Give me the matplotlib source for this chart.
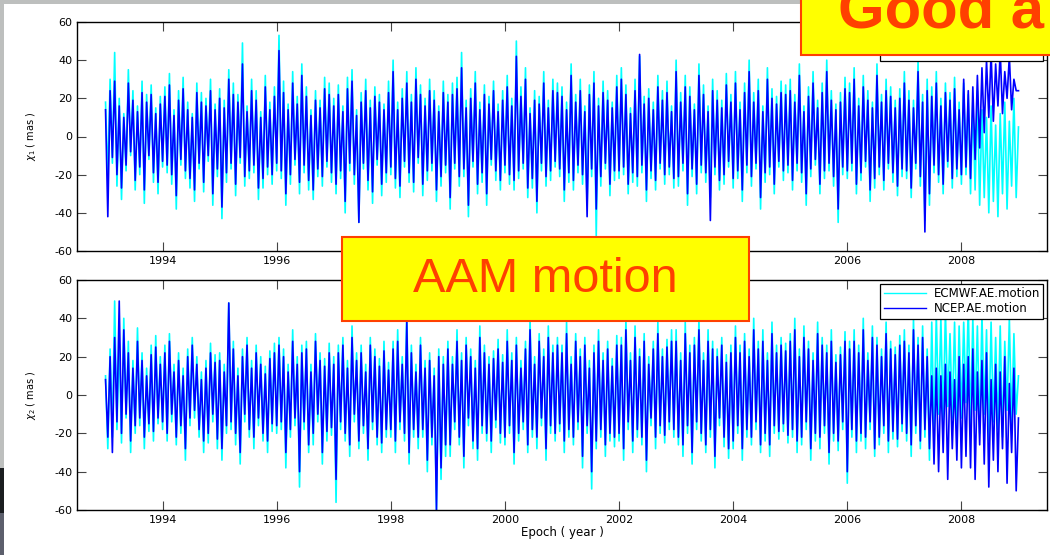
import numpy as np
import matplotlib
matplotlib.use("Agg")
import matplotlib.pyplot as plt
from matplotlib.patches import Rectangle

plt.rcParams['font.family'] = ['DejaVu Sans']
plt.rcParams['axes.unicode_minus'] = False

# chi1 (mas), ECMWF, 25 samples per year 1993..2008 (+ end point)
chi1_ecmwf = [
    18, -22, 30, -14, 44, -26, 20, -33, 12, -18, 35, -10, 24, -28, 16, -20, 29, -35, 22, -12, 27, -24, 15, -30, 21,
    -16, 26, -19, 33, -25, 14, -38, 24, -15, 31, -22, 18, -27, 12, -34, 28, -17, 23, -29, 20, -13, 30, -36, 17, -21,
    25, -43, 19, -24, 35, -17, 28, -31, 22, -14, 49, -26, 16, -22, 30, -19, 24, -33, 13, -27, 32, -20, 18, -25, 26,
    -18, 53, -22, 29, -36, 17, -25, 34, -15, 21, -30, 38, -19, 26, -28, 14, -33, 24, -21, 19, -26, 31, -16, 28, -24,
    20, -30, 27, -22, 16, -40, 31, -18, 35, -25, 14, -45, 23, -17, 30, -28, 19, -35, 26, -15, 22, -31, 17, -24, 29,
    -20, 40, -27, 18, -32, 25, -16, 34, -24, 22, -29, 36, -14, 27, -31, 20, -23, 30, -18, 24, -34, 16, -26, 29, -19,
    22, -38, 28, -17, 31, -26, 44, -21, 19, -42, 25, -16, 34, -30, 18, -24, 27, -36, 21, -15, 29, -23, 17, -28, 24,
    -19, 32, -25, 20, -28, 50, -22, 26, -17, 36, -32, 15, -27, 24, -40, 21, -18, 34, -26, 19, -23, 30, -16, 28, -21,
    26, -34, 18, -24, 38, -28, 22, -19, 30, -25, 16, -36, 27, -21, 34, -52, 20, -26, 29, -17, 24, -31, 18, -23, 32,
    -22, 36, -20, 27, -30, 15, -24, 30, -26, 42, -19, 21, -34, 25, -22, 18, -28, 32, -17, 24, -25, 29, -20, 16, -27,
    40, -26, 23, -18, 32, -36, 26, -21, 17, -30, 38, -19, 27, -24, 16, -32, 30, -20, 24, -28, 19, -25, 33, -16, 22,
    -27, 34, -22, 18, -34, 28, -19, 40, -26, 23, -17, 30, -38, 16, -24, 36, -20, 25, -30, 21, -16, 29, -23, 27, -19,
    30, -28, 22, -18, 38, -24, 16, -36, 26, -21, 34, -15, 19, -30, 28, -22, 40, -18, 24, -26, 17, -45, 23, -20, 31,
    -22, 28, -18, 36, -30, 20, -23, 32, -16, 24, -34, 18, -27, 38, -20, 22, -28, 30, -17, 26, -24, 19, -31, 25, -21,
    34, -22, 24, -32, 19, -17, 40, -26, 22, -44, 30, -36, 26, -19, 34, -24, 20, -30, 28, -16, 23, -27, 31, -21, 18,
    -25, 28, -20, 22, -30, 18, -28, 24, -36, 14, -32, 10, -40, 16, -34, 6, -42, 12, -30, 18, -38, 8, -26, 20, -32,
    5]

chi1_ncep = [
    14, -42, 24, -11, 29, -20, 16, -27, 10, -15, 28, -8, 19, -23, 13, -16, 23, -28, 18, -10, 22, -19, 12, -24, 17,
    -13, 21, -15, 27, -20, 11, -31, 19, -12, 25, -18, 14, -22, 10, -28, 23, -14, 18, -24, 16, -10, 24, -30, 14, -17,
    20, -37, 15, -19, 30, -14, 22, -25, 18, -11, 38, -21, 13, -18, 24, -15, 19, -27, 10, -22, 26, -16, 14, -20, 21,
    -14, 45, -18, 23, -30, 14, -20, 28, -12, 17, -24, 32, -15, 21, -23, 11, -28, 19, -17, 15, -21, 25, -13, 22, -19,
    16, -25, 22, -18, 13, -34, 25, -14, 29, -20, 11, -45, 18, -14, 24, -23, 15, -29, 21, -12, 18, -25, 14, -19, 23,
    -16, 34, -22, 14, -26, 20, -13, 28, -19, 18, -24, 30, -11, 22, -25, 16, -18, 24, -14, 19, -28, 13, -21, 23, -15,
    18, -32, 22, -14, 25, -21, 36, -17, 15, -36, 20, -13, 28, -25, 14, -19, 22, -30, 17, -12, 24, -18, 13, -23, 19,
    -15, 26, -20, 16, -23, 42, -18, 21, -14, 30, -27, 12, -22, 19, -34, 17, -14, 28, -21, 15, -18, 24, -13, 23, -17,
    21, -28, 14, -19, 32, -23, 18, -15, 24, -20, 13, -42, 22, -17, 28, -38, 16, -21, 23, -14, 19, -25, 15, -18, 26,
    -18, 30, -16, 22, -25, 12, -19, 24, -21, 43, -15, 17, -28, 20, -18, 14, -23, 26, -14, 19, -20, 23, -16, 13, -22,
    34, -21, 18, -14, 26, -30, 21, -17, 14, -25, 32, -15, 22, -19, 13, -44, 24, -16, 19, -23, 15, -20, 27, -13, 18,
    -22, 28, -18, 14, -28, 23, -15, 34, -21, 18, -14, 24, -32, 13, -19, 30, -16, 20, -25, 17, -13, 23, -18, 22, -15,
    24, -23, 18, -14, 32, -19, 13, -30, 21, -17, 28, -12, 15, -25, 23, -18, 34, -14, 19, -21, 14, -38, 18, -16, 25,
    -18, 23, -14, 30, -25, 16, -19, 26, -13, 19, -28, 15, -22, 32, -16, 18, -23, 24, -14, 21, -19, 15, -26, 20, -17,
    28, -18, 19, -27, 15, -14, 34, -21, 18, -50, 24, -30, 21, -15, 28, -20, 16, -25, 23, -13, 19, -22, 25, -17, 14,
    -20, 30, -16, 24, -22, 26, -12, 32, -6, 36, 2, 40, 10, 44, 8, 38, 16, 45, 12, 34, 20, 42, 14, 30, 24,
    24]

# chi2 (mas)
chi2_ecmwf = [
    10, -28, 24, -22, 49, -18, 30, -25, 40, -12, 28, -30, 18, -20, 35, -16, 22, -28, 14, -19, 26, -24, 31, -15, 20,
    -18, 26, -24, 32, -14, 16, -26, 22, -20, 14, -34, 24, -16, 30, -12, 20, -22, 12, -30, 18, -25, 27, -14, 21, -28,
    22, -34, 16, -20, 48, -18, 28, -26, 14, -36, 24, -14, 30, -22, 18, -28, 26, -16, 20, -24, 15, -30, 23, -19, 27,
    -20, 30, -18, 24, -38, 16, -22, 34, -16, 20, -48, 26, -18, 28, -30, 16, -26, 32, -14, 22, -36, 19, -24, 27, -21,
    20, -56, 26, -18, 30, -24, 18, -32, 36, -14, 22, -28, 26, -20, 16, -34, 30, -18, 24, -26, 19, -30, 28, -22, 17,
    -22, 28, -30, 34, -18, 20, -24, 46, -36, 26, -22, 16, -28, 30, -22, 18, -40, 22, -26, 14, -60, 24, -44, 20, -32,
    28, -32, 20, -18, 34, -26, 22, -38, 30, -16, 24, -28, 18, -34, 36, -20, 26, -24, 20, -30, 23, -17, 29, -25, 21,
    -26, 34, -20, 22, -36, 30, -24, 18, -18, 28, -30, 40, -22, 20, -28, 32, -16, 24, -34, 36, -20, 26, -24, 30, -19,
    26, -30, 38, -22, 20, -26, 32, -18, 24, -38, 30, -20, 18, -49, 26, -28, 34, -22, 22, -32, 28, -24, 19, -27, 31,
    -24, 30, -34, 40, -18, 22, -30, 36, -22, 24, -26, 32, -40, 20, -16, 28, -28, 38, -20, 24, -25, 29, -18, 34, -22,
    34, -26, 22, -32, 38, -20, 26, -36, 30, -18, 40, -24, 22, -30, 34, -22, 28, -38, 24, -16, 30, -27, 21, -33, 26,
    -28, 36, -20, 26, -34, 32, -22, 24, -26, 40, -18, 28, -30, 34, -24, 22, -32, 38, -20, 26, -23, 30, -19, 27, -25,
    32, -22, 40, -30, 24, -26, 36, -18, 28, -34, 22, -24, 38, -28, 30, -20, 26, -36, 34, -24, 21, -29, 25, -18, 33,
    -46, 28, -22, 34, -30, 26, -24, 40, -28, 22, -18, 36, -32, 30, -26, 24, -20, 38, -30, 28, -23, 25, -27, 31, -19,
    34, -24, 26, -32, 40, -20, 30, -28, 36, -22, 24, -34, 38, -18, 42, -10, 40, -14, 44, -6, 32, -12, 38, -20, 36,
    -12, 38, -4, 46, -16, 40, -8, 36, -20, 42, -10, 34, -24, 38, -14, 30, -18, 36, -22, 28, -8, 40, -16, 32, -10,
    10]

chi2_ncep = [
    8, -22, 20, -30, 30, -14, 49, -20, 34, -10, 22, -24, 14, -16, 28, -12, 18, -22, 10, -15, 21, -19, 25, -12, 16,
    -14, 22, -20, 28, -10, 12, -22, 18, -16, 10, -28, 20, -12, 26, -8, 16, -18, 8, -24, 14, -20, 22, -10, 17, -23,
    18, -28, 12, -16, 48, -14, 24, -20, 10, -30, 20, -10, 26, -18, 14, -22, 22, -12, 16, -20, 11, -24, 19, -15, 22,
    -16, 26, -14, 20, -30, 12, -18, 28, -12, 16, -40, 22, -14, 24, -26, 12, -20, 28, -10, 18, -30, 15, -19, 22, -17,
    16, -44, 22, -14, 26, -20, 14, -26, 30, -10, 18, -24, 22, -16, 12, -28, 26, -14, 20, -22, 15, -25, 23, -18, 13,
    -18, 24, -24, 28, -14, 16, -20, 38, -30, 22, -18, 12, -22, 26, -18, 14, -34, 18, -22, 10, -60, 20, -38, 16, -26,
    24, -26, 16, -14, 28, -22, 18, -32, 26, -12, 20, -24, 14, -28, 30, -16, 22, -20, 16, -24, 19, -13, 24, -20, 17,
    -22, 28, -16, 18, -30, 26, -20, 14, -14, 24, -26, 34, -18, 16, -22, 28, -12, 20, -28, 30, -16, 22, -20, 26, -15,
    22, -24, 32, -18, 16, -22, 28, -14, 20, -32, 26, -16, 14, -40, 22, -24, 28, -18, 18, -26, 24, -20, 15, -22, 26,
    -20, 26, -28, 34, -14, 18, -24, 30, -18, 20, -22, 28, -34, 16, -12, 24, -22, 32, -16, 20, -21, 25, -14, 28, -18,
    28, -22, 18, -26, 32, -16, 22, -30, 26, -14, 34, -20, 18, -26, 28, -18, 24, -32, 20, -12, 26, -22, 17, -28, 22,
    -24, 30, -16, 22, -28, 28, -18, 20, -22, 34, -14, 24, -26, 28, -20, 18, -26, 32, -16, 22, -19, 26, -15, 23, -21,
    28, -18, 34, -24, 20, -22, 30, -14, 24, -28, 18, -20, 32, -22, 26, -16, 22, -30, 28, -20, 17, -24, 21, -14, 28,
    -40, 24, -18, 28, -24, 22, -20, 34, -22, 18, -14, 30, -28, 26, -22, 20, -16, 32, -24, 24, -19, 21, -23, 26, -15,
    28, -20, 22, -26, 34, -16, 26, -24, 30, -18, 20, -28, 10, -36, 14, -40, 10, -30, 16, -44, 12, -28, 8, -34, 20,
    -38, 16, -32, 20, -38, 24, -44, 12, -26, 18, -36, 22, -48, 8, -34, 16, -40, 12, -28, 20, -46, 6, -30, 14, -50,
    -12]

year_ticks = [1994, 1996, 1998, 2000, 2002, 2004, 2006, 2008]
val_ticks = [-60, -40, -20, 0, 20, 40, 60]
series_names = ['ECMWF.AE.motion', 'NCEP.AE.motion']


def epochs(vals):
    # regularly sampled from 1993.0 to 2009.0
    return np.linspace(1993.0, 2009.0, len(vals))


W, H = 1050, 555
fig = plt.figure(figsize=(W / 100, H / 100), dpi=100)
fig.patch.set_facecolor('white')


def style(ax, ylab):
    ax.set_xlim(1992.5, 2009.5)
    ax.set_ylim(-60, 60)
    ax.set_xticks(year_ticks)
    ax.set_yticks(val_ticks)
    ax.tick_params(direction='in', top=True, right=True, length=6.5, width=0.8,
                   color='#444444', labelsize=8, pad=3.5)
    for s in ax.spines.values():
        s.set_linewidth(1.0)
    ax.set_ylabel(ylab, fontsize=7)
    ax.yaxis.set_label_coords(-0.040, 0.5)
    leg = ax.legend(loc='upper right', fontsize=8.5, fancybox=False, framealpha=1,
                    edgecolor='black', handlelength=3.6, borderaxespad=0.3,
                    borderpad=0.3, labelspacing=0.2, handletextpad=0.6)
    leg.get_frame().set_linewidth(0.9)
    for h in leg.get_lines():
        h.set_linewidth(1.0)


lw = 1.2
ax1 = fig.add_axes([77 / W, 1 - 251 / H, 970 / W, 229 / H])
ax1.plot(epochs(chi1_ecmwf), chi1_ecmwf, color='#00ffff', lw=lw, label=series_names[0])
ax1.plot(epochs(chi1_ncep), chi1_ncep, color='#0000ff', lw=lw, label=series_names[1])
style(ax1, r'$\chi_1$ ( mas )')

ax2 = fig.add_axes([77 / W, 1 - 510 / H, 970 / W, 230 / H])
ax2.plot(epochs(chi2_ecmwf), chi2_ecmwf, color='#00ffff', lw=lw, label=series_names[0])
ax2.plot(epochs(chi2_ncep), chi2_ncep, color='#0000ff', lw=lw, label=series_names[1])
style(ax2, r'$\chi_2$ ( mas )')
ax2.set_xlabel('Epoch ( year )', fontsize=8.5)
ax2.xaxis.set_label_coords(0.5, -0.07)

# slide background bits
gray = '#bdbfbe'
fig.add_artist(Rectangle((0, 1 - 4 / H), 1, 4 / H, transform=fig.transFigure,
                         facecolor=gray, edgecolor='none', zorder=5))
fig.add_artist(Rectangle((0, 0), 4 / W, 1, transform=fig.transFigure,
                         facecolor=gray, edgecolor='none', zorder=5))
fig.add_artist(Rectangle((0, 1 - 513 / H), 4 / W, 45 / H, transform=fig.transFigure,
                         facecolor='#1a1d20', edgecolor='none', zorder=6))
fig.add_artist(Rectangle((0, 0), 4 / W, 1 - 513 / H, transform=fig.transFigure,
                         facecolor='#5c5f6c', edgecolor='none', zorder=6))

# callout boxes
red = '#ff4000'
fig.add_artist(Rectangle((801 / W, 1 - 55 / H), 260 / W, 70 / H, transform=fig.transFigure,
                         facecolor='#ffff00', edgecolor=red, lw=1.5, zorder=10))
fig.text(838 / W, 1 - 28 / H, 'Good a', color=red, fontsize=43, fontweight='bold',
         family='Liberation Sans', va='baseline', ha='left', zorder=11)

fig.add_artist(Rectangle((342 / W, 1 - 321 / H), 407 / W, 84 / H, transform=fig.transFigure,
                         facecolor='#ffff00', edgecolor=red, lw=1.5, zorder=10))
fig.text(545 / W, 1 - 280 / H, 'AAM motion', color=red, fontsize=35,
         family='Liberation Sans', va='center', ha='center', zorder=11)

fig.savefig('out.png', dpi=100)
